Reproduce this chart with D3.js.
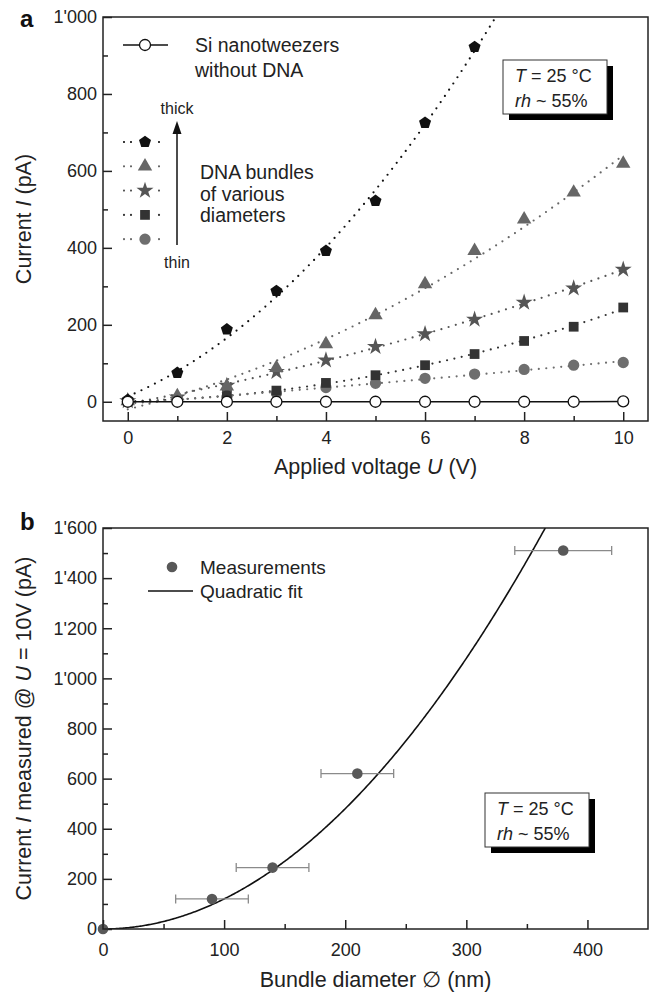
<!DOCTYPE html>
<html><head><meta charset="utf-8">
<script src="https://cdn.jsdelivr.net/npm/d3@7"></script>
<style>
html,body{margin:0;padding:0;background:#fff;}
svg{display:block;font-family:"Liberation Sans",Arial,sans-serif;}
</style></head>
<body>
<svg id="chart" width="650" height="992"></svg>
<script>
// ---------- Panel a data ----------
const voltage = [0,1,2,3,4,5,6,7,8,9,10];
const pentagonI = [5,75,188,288,392,522,725,922];
const triangleI = [2,15,40,88,150,225,306,392,474,544,619];
const starI = [2,12,42,78,108,143,176,214,258,295,344];
const squareI = [0,5,18,29,49,69,95,124,158,195,245];
const circleI = [0,3,12,22,37,48,61,72,84,95,102];
const siI = [0,0,0,0,0,0,0,0,0,0,1];
const xTicksA = [0,2,4,6,8,10];
const yTicksA = [0,200,400,600,800,1000];

// ---------- Panel b data ----------
const diameter = [0,90,140,210,380];
const currentB = [0,120,245,620,1510];
const diameterErr = [0,30,30,30,40];
const fitCoef = 0.0120;
const xTicksB = [0,100,200,300,400];
const yTicksB = [0,200,400,600,800,1000,1200,1400,1600];

const svg = d3.select("#chart");
const fmt = d3.formatLocale({decimal:".",thousands:"'",grouping:[3],currency:["",""]}).format(",");

// custom pentagon symbol
const symbolPentagon = {draw(ctx,size){
  const r = Math.sqrt(size/2.378);
  for(let i=0;i<5;i++){
    const a = -Math.PI/2 + i*2*Math.PI/5;
    const x = r*Math.cos(a), y = r*Math.sin(a);
    if(i===0) ctx.moveTo(x,y); else ctx.lineTo(x,y);
  }
  ctx.closePath();
}};

const seriesA = [
  {name:"pentagon", values:pentagonI, sym:symbolPentagon, size:95, color:"#111"},
  {name:"triangle", values:triangleI, sym:d3.symbolTriangle, size:90, color:"#666"},
  {name:"star", values:starI, sym:d3.symbolStar, size:90, color:"#555"},
  {name:"square", values:squareI, sym:d3.symbolSquare, size:95, color:"#333"},
  {name:"circle", values:circleI, sym:d3.symbolCircle, size:100, color:"#6e6e6e"}
];

function quadFit(xs, ys){
  let S=[0,0,0,0,0], T=[0,0,0];
  xs.forEach((x,i)=>{const y=ys[i];
    for(let k=0;k<5;k++) S[k]+=Math.pow(x,k);
    for(let k=0;k<3;k++) T[k]+=y*Math.pow(x,k);});
  const M=[[S[0],S[1],S[2]],[S[1],S[2],S[3]],[S[2],S[3],S[4]]];
  const det=m=>m[0][0]*(m[1][1]*m[2][2]-m[1][2]*m[2][1])-m[0][1]*(m[1][0]*m[2][2]-m[1][2]*m[2][0])+m[0][2]*(m[1][0]*m[2][1]-m[1][1]*m[2][0]);
  const D=det(M);
  const c=[0,1,2].map(j=>{const m=M.map((row,i)=>row.map((v,k)=>k===j?T[i]:v));return det(m)/D;});
  return x=>c[0]+c[1]*x+c[2]*x*x;
}

// ---------- Panel a ----------
const A = {left:103,right:648,top:17,bottom:421};
const xA = d3.scaleLinear().domain([-0.5,10.5]).range([A.left,A.right]);
const yA = d3.scaleLinear().domain([-50,1000]).range([A.bottom,A.top]);

svg.append("clipPath").attr("id","clipA").append("rect")
  .attr("x",A.left).attr("y",A.top).attr("width",A.right-A.left).attr("height",A.bottom-A.top);

const gA = svg.append("g");
gA.append("g").attr("transform",`translate(${A.left},0)`)
  .call(d3.axisLeft(yA).tickValues(yTicksA).tickSize(-9).tickPadding(6).tickFormat(fmt));
gA.append("g").attr("transform",`translate(0,${A.bottom})`)
  .call(d3.axisBottom(xA).tickValues(xTicksA).tickSize(-9).tickPadding(10));
gA.append("g").attr("transform",`translate(${A.left},0)`)
  .call(d3.axisLeft(yA).tickValues([100,300,500,700,900]).tickSize(-5).tickFormat(""));
gA.append("g").attr("transform",`translate(0,${A.bottom})`)
  .call(d3.axisBottom(xA).tickValues([1,3,5,7,9]).tickSize(-5).tickFormat(""));

// ---------- Panel b ----------
const B = {left:103,right:648,top:528,bottom:929};
const xB = d3.scaleLinear().domain([0,450]).range([B.left,B.right]);
const yB = d3.scaleLinear().domain([0,1600]).range([B.bottom,B.top]);
svg.append("clipPath").attr("id","clipB").append("rect")
  .attr("x",B.left).attr("y",B.top).attr("width",B.right-B.left).attr("height",B.bottom-B.top);
const gB = svg.append("g");
gB.append("g").attr("transform",`translate(${B.left},0)`)
  .call(d3.axisLeft(yB).tickValues(yTicksB).tickSize(-9).tickPadding(6).tickFormat(fmt));
gB.append("g").attr("transform",`translate(0,${B.bottom})`)
  .call(d3.axisBottom(xB).tickValues(xTicksB).tickSize(-9).tickPadding(14));
gB.append("g").attr("transform",`translate(${B.left},0)`)
  .call(d3.axisLeft(yB).tickValues([100,300,500,700,900,1100,1300,1500]).tickSize(-5).tickFormat(""));
gB.append("g").attr("transform",`translate(0,${B.bottom})`)
  .call(d3.axisBottom(xB).tickValues([50,150,250,350]).tickSize(-5).tickFormat(""));

svg.selectAll(".domain").remove();
svg.selectAll(".tick line").attr("stroke","#222").attr("stroke-width",1.5);
svg.selectAll(".tick text").attr("font-size",18).attr("fill","#222")
  .attr("font-family","'Liberation Sans',Arial,sans-serif");

// frames
[A,B].forEach(P=>svg.append("rect").attr("x",P.left).attr("y",P.top)
  .attr("width",P.right-P.left).attr("height",P.bottom-P.top)
  .attr("fill","none").attr("stroke","#222").attr("stroke-width",1.5));

// panel a fit lines (dotted)
const plotA = gA.append("g").attr("clip-path","url(#clipA)");
const sampleX = d3.range(0,10.001,0.05);
seriesA.forEach(s=>{
  const xs = voltage.slice(0,s.values.length);
  const f = quadFit(xs,s.values);
  const line = d3.line().x(d=>xA(d)).y(d=>yA(f(d)));
  plotA.append("path").attr("d",line(sampleX)).attr("fill","none")
    .attr("stroke",s.color).attr("stroke-width",2.2).attr("stroke-linecap","round")
    .attr("stroke-dasharray","0,7.5");
});
seriesA.slice().reverse().forEach(s=>{
  plotA.selectAll(null).data(s.values).enter().append("path")
    .attr("transform",(d,i)=>`translate(${xA(voltage[i])},${yA(d)})`)
    .attr("d",d3.symbol().type(s.sym).size(s.size)).attr("fill",s.color);
});
plotA.append("path").datum(siI).attr("d",d3.line().x((d,i)=>xA(voltage[i])).y(d=>yA(d)))
  .attr("fill","none").attr("stroke","#111").attr("stroke-width",1.5);
plotA.selectAll(null).data(siI).enter().append("circle")
  .attr("cx",(d,i)=>xA(voltage[i])).attr("cy",d=>yA(d)).attr("r",5.5)
  .attr("fill","#fff").attr("stroke","#111").attr("stroke-width",1.3);

// legend a
const legA = svg.append("g").attr("font-size",19.5).attr("fill","#222");
legA.append("line").attr("x1",123).attr("x2",168).attr("y1",45).attr("y2",45).attr("stroke","#111").attr("stroke-width",1.5);
legA.append("circle").attr("cx",145).attr("cy",45).attr("r",5.5).attr("fill","#fff").attr("stroke","#111").attr("stroke-width",1.3);
legA.append("text").attr("x",195).attr("y",52).text("Si nanotweezers");
legA.append("text").attr("x",195).attr("y",77).text("without DNA");
seriesA.forEach((s,i)=>{
  const y = 142 + i*24.3;
  legA.append("line").attr("x1",124).attr("x2",165).attr("y1",y).attr("y2",y)
    .attr("stroke",s.color).attr("stroke-width",2.2).attr("stroke-linecap","round").attr("stroke-dasharray","0,7");
  legA.append("rect").attr("x",136).attr("y",y-7).attr("width",18).attr("height",14).attr("fill","#fff");
  legA.append("path").attr("transform",`translate(145,${y})`).attr("d",d3.symbol().type(s.sym).size(s.size)).attr("fill",s.color);
});
legA.append("line").attr("x1",177).attr("x2",177).attr("y1",245).attr("y2",132).attr("stroke","#111").attr("stroke-width",1.5);
legA.append("path").attr("d","M177,121 L172.5,134 L181.5,134 Z").attr("fill","#111");
legA.append("text").attr("x",177).attr("y",114).attr("text-anchor","middle").attr("font-size",16).text("thick");
legA.append("text").attr("x",177).attr("y",268).attr("text-anchor","middle").attr("font-size",16).text("thin");
legA.append("text").attr("x",200).attr("y",179).text("DNA bundles");
legA.append("text").attr("x",200).attr("y",200.5).text("of various");
legA.append("text").attr("x",200).attr("y",222).text("diameters");

// condition boxes
function condBox(x,y,w,h){
  const g = svg.append("g");
  g.append("rect").attr("x",x+6).attr("y",y+6).attr("width",w).attr("height",h).attr("fill","#000");
  g.append("rect").attr("x",x).attr("y",y).attr("width",w).attr("height",h).attr("fill","#fff").attr("stroke","#333").attr("stroke-width",1);
  const t1 = g.append("text").attr("x",x+12).attr("y",y+22).attr("font-size",18).attr("fill","#222");
  t1.append("tspan").attr("font-style","italic").text("T");
  t1.append("tspan").text(" = 25 °C");
  const t2 = g.append("text").attr("x",x+12).attr("y",y+47).attr("font-size",18).attr("fill","#222");
  t2.append("tspan").attr("font-style","italic").text("rh");
  t2.append("tspan").text(" ~ 55%");
}
condBox(503,60,104,54);
condBox(485,793,104,54);

// panel b plot
const plotB = gB.append("g");
const fitX = d3.range(0,450.01,1);
plotB.append("path").attr("clip-path","url(#clipB)")
  .attr("d",d3.line().x(d=>xB(d)).y(d=>yB(fitCoef*d*d))(fitX))
  .attr("fill","none").attr("stroke","#111").attr("stroke-width",1.6);
diameter.forEach((d,i)=>{
  if(diameterErr[i]>0){
    const y = yB(currentB[i]);
    plotB.append("line").attr("x1",xB(d-diameterErr[i])).attr("x2",xB(d+diameterErr[i])).attr("y1",y).attr("y2",y).attr("stroke","#8a8a8a").attr("stroke-width",1.3);
    [d-diameterErr[i],d+diameterErr[i]].forEach(e=>plotB.append("line").attr("x1",xB(e)).attr("x2",xB(e)).attr("y1",y-4.5).attr("y2",y+4.5).attr("stroke","#8a8a8a").attr("stroke-width",1.3));
  }
});
plotB.selectAll(null).data(diameter).enter().append("circle")
  .attr("cx",d=>xB(d)).attr("cy",(d,i)=>yB(currentB[i])).attr("r",5.3).attr("fill","#585858");

// legend b
const legB = svg.append("g").attr("font-size",19).attr("fill","#222");
legB.append("circle").attr("cx",172).attr("cy",567).attr("r",5.3).attr("fill","#585858");
legB.append("text").attr("x",200).attr("y",574).text("Measurements");
legB.append("line").attr("x1",148).attr("x2",193).attr("y1",591).attr("y2",591).attr("stroke","#111").attr("stroke-width",1.6);
legB.append("text").attr("x",200).attr("y",598).text("Quadratic fit");

// axis titles
const titles = svg.append("g").attr("font-size",21.5).attr("fill","#222");
let t = titles.append("text").attr("x",(A.left+A.right)/2).attr("y",474).attr("text-anchor","middle");
t.append("tspan").text("Applied voltage ");
t.append("tspan").attr("font-style","italic").text("U");
t.append("tspan").text(" (V)");
t = titles.append("text").attr("transform",`translate(31,${(A.top+A.bottom)/2}) rotate(-90)`).attr("text-anchor","middle");
t.append("tspan").text("Current ");
t.append("tspan").attr("font-style","italic").text("I");
t.append("tspan").text(" (pA)");
t = titles.append("text").attr("x",(B.left+B.right)/2).attr("y",987).attr("text-anchor","middle");
t.append("tspan").text("Bundle diameter ∅ (nm)");
t = titles.append("text").attr("transform",`translate(31,${(B.top+B.bottom)/2}) rotate(-90)`).attr("text-anchor","middle");
t.append("tspan").text("Current ");
t.append("tspan").attr("font-style","italic").text("I");
t.append("tspan").text(" measured @ ");
t.append("tspan").attr("font-style","italic").text("U");
t.append("tspan").text(" = 10V (pA)");

// panel labels
svg.append("text").attr("x",20).attr("y",27).attr("font-size",24).attr("font-weight","bold").attr("fill","#111").text("a");
svg.append("text").attr("x",20).attr("y",530).attr("font-size",24).attr("font-weight","bold").attr("fill","#111").text("b");
</script>
</body></html>
